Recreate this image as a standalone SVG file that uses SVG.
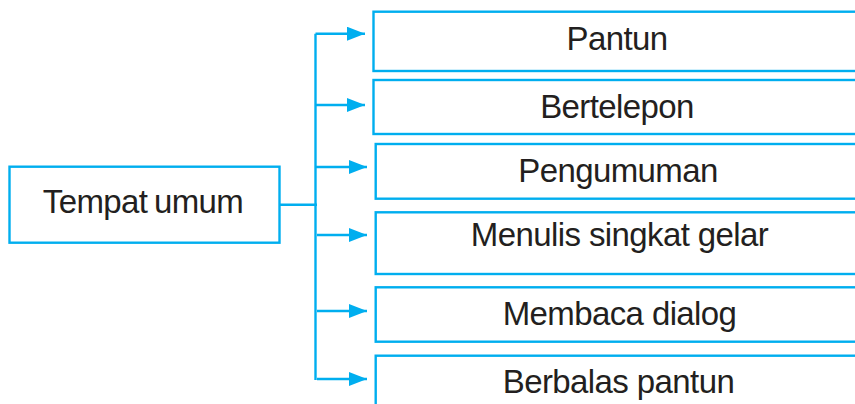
<svg xmlns="http://www.w3.org/2000/svg" width="855" height="404" viewBox="0 0 855 404">
<defs>
<marker id="arr" markerWidth="18" markerHeight="14" refX="18" refY="7" orient="auto" markerUnits="userSpaceOnUse">
<path d="M0,0 L18,7 L0,14 Z" fill="#00aeef"/>
</marker>
<style>
.box{fill:#fff;stroke:#00aeef;stroke-width:2.4}
.ln{fill:none;stroke:#00aeef;stroke-width:2.4}
.t{font-family:"Liberation Sans",Arial,sans-serif;font-size:33px;fill:#231f20;text-anchor:middle;letter-spacing:-0.6px}
</style>
</defs>
<rect width="855" height="404" fill="#fff"/>
<g id="connectors">
<path class="ln" d="M279,204.7 H317"/>
<path class="ln" d="M315.5,33.7 V380"/>
<path class="ln" marker-end="url(#arr)" d="M315.5,33.7 H365"/>
<path class="ln" marker-end="url(#arr)" d="M315.5,105 H365"/>
<path class="ln" marker-end="url(#arr)" d="M315.5,167 H367"/>
<path class="ln" marker-end="url(#arr)" d="M317,235 H367"/>
<path class="ln" marker-end="url(#arr)" d="M317,311 H367"/>
<path class="ln" marker-end="url(#arr)" d="M317,379 H367"/>
</g>
<g id="tempat-umum">
<rect class="box" x="9.5" y="166.7" width="270" height="76"/>
<text class="t" x="143" y="213" letter-spacing="-0.9" word-spacing="-2">Tempat umum</text>
</g>
<g id="pantun">
<rect class="box" x="373.5" y="11.7" width="500" height="59.3"/>
<text class="t" x="617" y="50" letter-spacing="-1.2">Pantun</text>
</g>
<g id="bertelepon">
<rect class="box" x="373.5" y="80" width="500" height="54"/>
<text class="t" x="617" y="118.3">Bertelepon</text>
</g>
<g id="pengumuman">
<rect class="box" x="375.7" y="144" width="500" height="54.7"/>
<text class="t" x="618" y="181.7">Pengumuman</text>
</g>
<g id="menulis">
<rect class="box" x="375.7" y="212.3" width="500" height="61.7"/>
<text class="t" x="619.5" y="246">Menulis singkat gelar</text>
</g>
<g id="membaca">
<rect class="box" x="375.7" y="287.3" width="500" height="54.4"/>
<text class="t" x="619.5" y="325">Membaca dialog</text>
</g>
<g id="berbalas">
<rect class="box" x="375.7" y="355.7" width="500" height="80"/>
<text class="t" x="618.5" y="393">Berbalas pantun</text>
</g>
</svg>
